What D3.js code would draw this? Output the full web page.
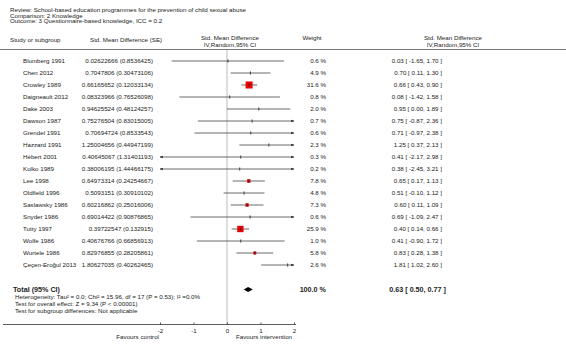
<!DOCTYPE html>
<html>
<head>
<meta charset="utf-8">
<script src="https://cdn.jsdelivr.net/npm/d3@7"></script>
<style>
  body { margin: 0; background: #fff; }
  text { font-family: "Liberation Sans", Arial, sans-serif; fill: #222; }
</style>
</head>
<body>
<div id="svg-container"></div>
<script>
(function () {
  'use strict'

  var studies = ['Blumberg 1991', 'Chen 2012', 'Crowley 1989', 'Daigneault 2012', 'Dake 2003',
    'Dawson 1987', 'Grendel 1991', 'Hazzard 1991', 'Hébert 2001', 'Kolko 1989', 'Lee 1998',
    'Oldfield 1996', 'Saslawsky 1986', 'Snyder 1986', 'Tutty 1997', 'Wolfe 1986', 'Wurtele 1986',
    'Çeçen-Eroğul 2013']
  var smd = [0.02622666, 0.7047806, 0.66165652, 0.08323966, 0.94625524, 0.75276504, 0.70694724,
    1.25004656, 0.40645067, 0.38006195, 0.64973314, 0.5093151, 0.60216862, 0.69014422,
    0.39722547, 0.40676766, 0.82976855, 1.80627035]
  var se = [0.8536425, 0.30473106, 0.12033134, 0.76526098, 0.48124257, 0.83015005, 0.8533543,
    0.44947199, 1.31401193, 1.44466175, 0.24254667, 0.30910102, 0.25016006, 0.90876865,
    0.132915, 0.66856913, 0.28205861, 0.40262465]
  var estimate = [0.03, 0.70, 0.66, 0.08, 0.95, 0.75, 0.71, 1.25, 0.41, 0.38, 0.65, 0.51, 0.60,
    0.69, 0.40, 0.41, 0.83, 1.81]
  var ciLow = [-1.65, 0.11, 0.43, -1.42, 0.00, -0.87, -0.97, 0.37, -2.17, -2.45, 0.17, -0.10,
    0.11, -1.09, 0.14, -0.90, 0.28, 1.02]
  var ciHigh = [1.70, 1.30, 0.90, 1.58, 1.89, 2.36, 2.38, 2.13, 2.98, 3.21, 1.13, 1.12, 1.09,
    2.47, 0.66, 1.72, 1.38, 2.60]
  var weights = [0.6, 4.9, 31.6, 0.8, 2.0, 0.7, 0.6, 2.3, 0.3, 0.2, 7.8, 4.8, 7.3, 0.6, 25.9,
    1.0, 5.8, 2.6]
  var total = { est: 0.63, lo: 0.50, hi: 0.77, weight: 100.0 }
  var axisTicks = [-2, -1, 0, 1, 2]

  var titleLines = [
    'Review:  School-based education programmes for the prevention of child sexual abuse',
    'Comparison:  2 Knowledge',
    'Outcome:  3 Questionnaire-based knowledge, ICC = 0.2'
  ]
  var footLines = [
    'Heterogeneity: Tau² = 0.0; Chi² = 15.96, df = 17 (P = 0.53); I² =0.0%',
    'Test for overall effect: Z = 9.34 (P < 0.00001)',
    'Test for subgroup differences: Not applicable'
  ]

  var dim = { w: 566, h: 349 }
  var fs = 6.2

  var svg = d3.select('#svg-container').append('svg')
    .attr('width', dim.w)
    .attr('height', dim.h)

  var x = d3.scaleLinear().domain([-2, 2]).range([160, 294])
  var rowY = d3.scalePoint().domain(d3.range(studies.length)).range([61, 265])
  var box = d3.scaleSqrt().domain([0, 31.6]).range([0, 7])

  function fmt (v) { return v.toFixed(2) }
  function label (txt, px, py, anchor, size, bold) {
    return svg.append('text')
      .attr('x', px).attr('y', py)
      .attr('text-anchor', anchor || 'start')
      .attr('font-size', size || fs)
      .attr('font-weight', bold ? 'bold' : 'normal')
      .text(txt)
  }

  // Title block
  titleLines.forEach(function (t, i) { label(t, 10, 12 + i * 5.6) })

  // Column headers
  label('Study or subgroup', 10, 41.5)
  label('Std. Mean Difference (SE)', 90, 41.5)
  label('Std. Mean Difference', 230, 40, 'middle')
  label('IV,Random,95% CI', 230, 46.5, 'middle')
  label('Weight', 312, 40, 'middle')
  label('Std. Mean Difference', 453, 40, 'middle')
  label('IV,Random,95% CI', 453, 46.5, 'middle')

  svg.append('line')
    .attr('x1', 0).attr('x2', dim.w).attr('y1', 49.5).attr('y2', 49.5)
    .attr('stroke', '#777').attr('stroke-width', 1)

  // Zero line
  svg.append('line')
    .attr('x1', x(0)).attr('x2', x(0)).attr('y1', 50).attr('y2', 324)
    .attr('stroke', '#aaa').attr('stroke-width', 0.8)

  // Arrow marker
  var defs = svg.append('defs')
  defs.append('marker').attr('id', 'arr')
    .attr('viewBox', '0 0 10 10').attr('refX', 9).attr('refY', 5)
    .attr('markerWidth', 4).attr('markerHeight', 4).attr('orient', 'auto-start-reverse')
    .append('path').attr('d', 'M0,1L10,5L0,9z').attr('fill', '#333')

  var rows = svg.selectAll('.row').data(studies).enter().append('g')
    .attr('class', 'row')
    .attr('transform', function (d, i) { return 'translate(0,' + rowY(i) + ')' })

  rows.append('text').attr('x', 23).attr('y', 2.2).attr('font-size', fs)
    .text(function (d) { return d })
  rows.append('text').attr('x', 153).attr('y', 2.2).attr('font-size', fs)
    .attr('text-anchor', 'end')
    .text(function (d, i) { return String(smd[i]) + ' (' + String(se[i]) + ')' })
  rows.append('text').attr('x', 326).attr('y', 2.2).attr('font-size', fs)
    .attr('text-anchor', 'end')
    .text(function (d, i) { return weights[i].toFixed(1) + ' %' })
  rows.append('text').attr('x', 442).attr('y', 2.2).attr('font-size', fs)
    .attr('text-anchor', 'end')
    .text(function (d, i) { return fmt(estimate[i]) + ' [ ' + fmt(ciLow[i]) + ', ' + fmt(ciHigh[i]) + ' ]' })

  // CI lines
  rows.append('line')
    .attr('x1', function (d, i) { return x(Math.max(-2, ciLow[i])) })
    .attr('x2', function (d, i) { return x(Math.min(2, ciHigh[i])) })
    .attr('y1', 0).attr('y2', 0)
    .attr('stroke', '#444').attr('stroke-width', 0.8)
    .attr('marker-start', function (d, i) { return ciLow[i] < -2 ? 'url(#arr)' : null })
    .attr('marker-end', function (d, i) { return ciHigh[i] > 2 ? 'url(#arr)' : null })

  // Weight squares (very small ones vanish behind the tick, as in RevMan)
  rows.filter(function (d, i) { return box(weights[i]) >= 2.9 })
    .append('rect')
    .attr('x', function (d) { var i = studies.indexOf(d); return x(estimate[i]) - box(weights[i]) / 2 })
    .attr('y', function (d) { var i = studies.indexOf(d); return -box(weights[i]) / 2 })
    .attr('width', function (d) { return box(weights[studies.indexOf(d)]) })
    .attr('height', function (d) { return box(weights[studies.indexOf(d)]) })
    .attr('fill', '#e00')

  // Point ticks
  rows.append('line')
    .attr('x1', function (d, i) { return x(estimate[i]) })
    .attr('x2', function (d, i) { return x(estimate[i]) })
    .attr('y1', -1.6).attr('y2', 1.6)
    .attr('stroke', '#222').attr('stroke-width', 0.8)

  // Total
  var ty = 289.5
  label('Total (95% CI)', 13, ty + 2.4, 'start', 7.2, true)
  label(total.weight.toFixed(1) + ' %', 326, ty + 2.4, 'end', 7.2, true)
  label(fmt(total.est) + ' [ ' + fmt(total.lo) + ', ' + fmt(total.hi) + ' ]', 446, ty + 2.4, 'end', 7.2, true)
  svg.append('path')
    .attr('d', 'M' + x(total.lo) + ',' + ty + 'L' + x(total.est) + ',' + (ty - 2.6) +
      'L' + x(total.hi) + ',' + ty + 'L' + x(total.est) + ',' + (ty + 2.6) + 'Z')
    .attr('fill', '#000')

  footLines.forEach(function (t, i) { label(t, 15, 299 + i * 6.8) })

  // Axis
  svg.append('line')
    .attr('x1', 3).attr('x2', 296).attr('y1', 324.5).attr('y2', 324.5)
    .attr('stroke', '#333').attr('stroke-width', 0.8)
  var axis = svg.append('g').attr('transform', 'translate(0,324.5)')
    .call(d3.axisBottom(x).tickValues(axisTicks).tickSize(-2).tickPadding(4)
      .tickFormat(function (d) { return String(d) }))
  axis.select('.domain').remove()
  axis.selectAll('line').attr('stroke', '#333').attr('stroke-width', 0.8)
  axis.selectAll('text').attr('font-size', fs).attr('font-family', null).style('fill', '#222')

  label('Favours control', 159, 339, 'end')
  label('Favours intervention', 236, 339)
}())
</script>
</body>
</html>
